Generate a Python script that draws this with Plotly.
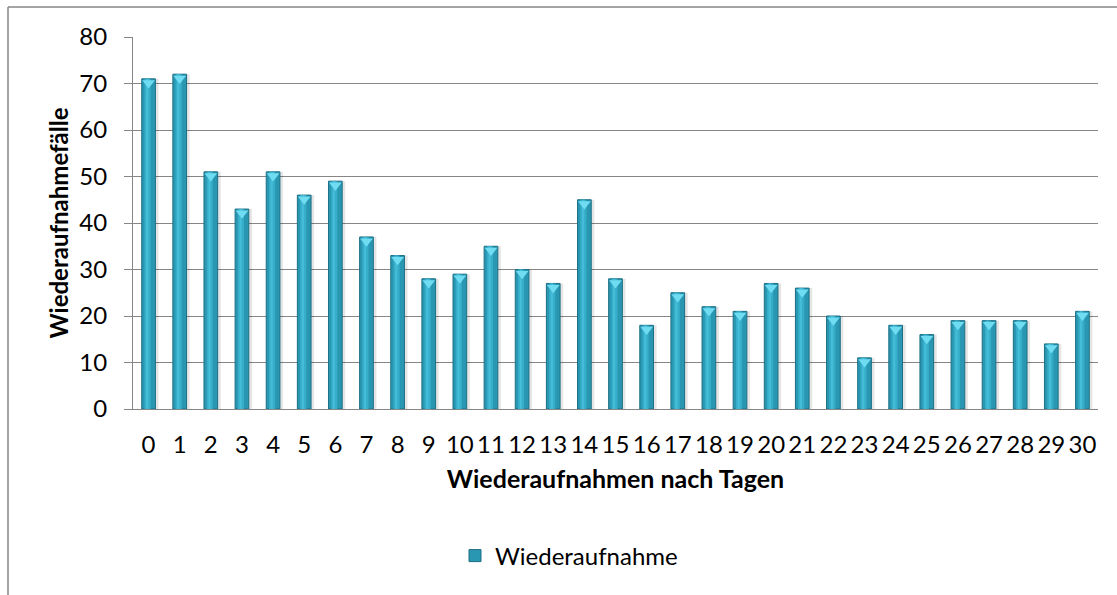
import plotly.graph_objects as go

# Wiederaufnahmen je Tag nach Entlassung
tage = [str(i) for i in range(31)]
faelle = [71, 72, 51, 43, 51, 46, 49, 37, 33, 28, 29, 35, 30, 27, 45, 28,
          18, 25, 22, 21, 27, 26, 20, 11, 18, 16, 19, 19, 19, 14, 21]
y_ticks = [0, 10, 20, 30, 40, 50, 60, 70, 80]

W, H = 1117, 595
L, R, T, B = 133, 19, 37, 186
pw, ph = W - L - R, H - T - B

def px_x(px):
    return (px - L) / pw

def px_y(py):
    return (H - B - py) / ph

font = "Lato, 'Open Sans', sans-serif"
fs = 24
bw = 0.44

fig = go.Figure()

# soft drop shadow to the right of each column
fig.add_trace(go.Bar(x=tage, y=faelle, width=bw + 0.08, offset=-bw / 2 + 0.02,
                     marker=dict(color="rgba(0,0,0,0.10)", line=dict(width=0)),
                     showlegend=False, hoverinfo="skip"))
# main column body
fig.add_trace(go.Bar(x=tage, y=faelle, width=bw, offset=-bw / 2,
                     name="Wiederaufnahme",
                     marker=dict(color="#2a97b2", line=dict(color="#1c6f84", width=1))))
# lighter centre band giving a rounded look
fig.add_trace(go.Bar(x=tage, y=faelle, width=bw * 0.45, offset=-bw * 0.30,
                     marker=dict(color="#36aeca", line=dict(width=0)),
                     showlegend=False, hoverinfo="skip"))
fig.add_trace(go.Bar(x=tage, y=faelle, width=bw * 0.16, offset=-bw * 0.18,
                     marker=dict(color="#45bdd8", line=dict(width=0)),
                     showlegend=False, hoverinfo="skip"))
# bevelled cap on top of each column
fig.add_trace(go.Scatter(x=tage, y=[v - 0.9 for v in faelle], mode="markers",
                         marker=dict(symbol="triangle-down", size=11, color="#6fdcf2",
                                     line=dict(width=0)),
                         showlegend=False, hoverinfo="skip"))

fig.update_layout(
    width=W, height=H,
    margin=dict(l=L, r=R, t=T, b=B),
    paper_bgcolor="white", plot_bgcolor="white",
    barmode="overlay",
    font=dict(family=font, size=fs, color="#000000"),
    showlegend=True,
    legend=dict(x=px_x(455), y=px_y(556), xanchor="left", yanchor="middle",
                orientation="h", font=dict(size=fs, family=font),
                bgcolor="rgba(0,0,0,0)", itemwidth=30, traceorder="normal"),
    xaxis=dict(
        type="category", categoryorder="array", categoryarray=tage,
        range=[-0.5, 30.5],
        showline=True, linecolor="#868686", linewidth=1,
        showgrid=False, ticks="", ticklabelstandoff=14,
        tickfont=dict(size=fs, family=font),
        title=dict(text="<b>Wiederaufnahmen nach Tagen</b>", standoff=13,
                   font=dict(size=25, family=font)),
    ),
    yaxis=dict(
        range=[0, 80], tickvals=y_ticks,
        showline=True, linecolor="#868686", linewidth=1,
        showgrid=True, gridcolor="#868686", gridwidth=1,
        ticks="outside", ticklen=8, tickcolor="#868686",
        ticklabelstandoff=12,
        tickfont=dict(size=fs, family=font),
        zeroline=False,
        title=dict(text="<b>Wiederaufnahmefälle</b>", standoff=3,
                   font=dict(size=fs, family=font)),
    ),
)

# chart frame
fig.add_shape(type="line", xref="paper", yref="paper",
              x0=px_x(8), y0=px_y(600), x1=px_x(8), y1=px_y(7),
              line=dict(color="#868686", width=1.5))
fig.add_shape(type="line", xref="paper", yref="paper",
              x0=px_x(8), y0=px_y(7), x1=px_x(1120), y1=px_y(7),
              line=dict(color="#868686", width=1.5))

fig.write_html("out.html")
